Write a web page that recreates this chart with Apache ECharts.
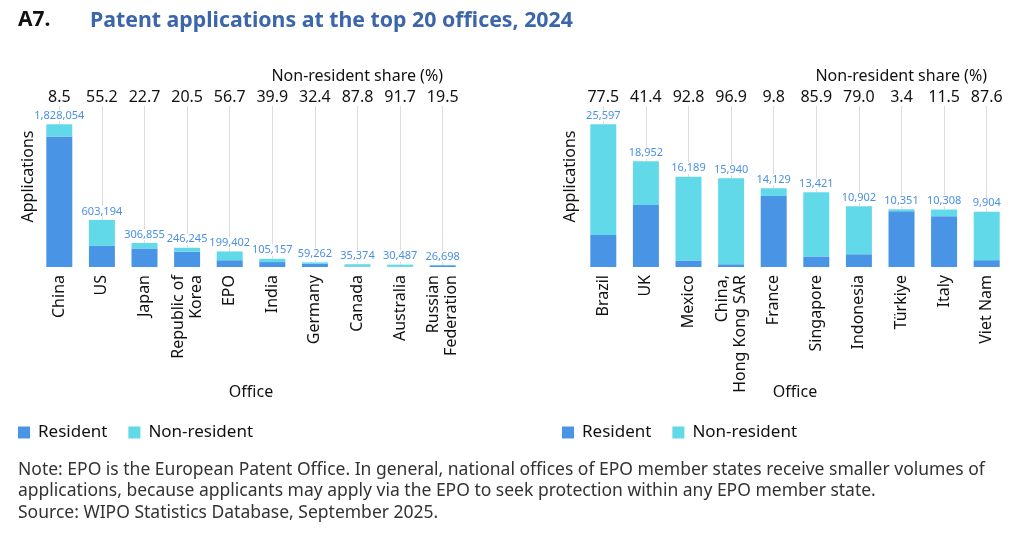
<!DOCTYPE html>
<html>
<head>
<meta charset="utf-8">
<script src="https://cdn.jsdelivr.net/npm/echarts@6/dist/echarts.min.js"></script>
<style>
html,body{margin:0;padding:0;background:#fff;}
#c{width:1024px;height:534px;}
</style>
</head>
<body>
<div id="c"></div>
<script>
// Left panel (top 10 offices)
const leftOffices = ['China','US','Japan','Republic of\nKorea','EPO','India','Germany','Canada','Australia','Russian\nFederation'];
const leftTotals = [1828054,603194,306855,246245,199402,105157,59262,35374,30487,26698];
const leftShare = ['8.5','55.2','22.7','20.5','56.7','39.9','32.4','87.8','91.7','19.5'];
const leftResident = [1672669,270231,237199,195765,86341,63199,40061,4316,2530,21492];
const leftNonResident = [155385,332963,69656,50480,113061,41958,19201,31058,27957,5206];

// Right panel (offices 11-20)
const rightOffices = ['Brazil','UK','Mexico','China,\nHong Kong SAR','France','Singapore','Indonesia','Türkiye','Italy','Viet Nam'];
const rightTotals = [25597,18952,16189,15940,14129,13421,10902,10351,10308,9904];
const rightShare = ['77.5','41.4','92.8','96.9','9.8','85.9','79.0','3.4','11.5','87.6'];
const rightResident = [5759,11106,1166,494,12744,1892,2289,9999,9123,1228];
const rightNonResident = [19838,7846,15023,15446,1385,11529,8613,352,1185,8676];

const leftMax = 2062000;
const rightMax = 28880;

const RES = '#4A94E6', NON = '#62D9E8', LBL = '#4A90E2';
const FONT = 'Noto Sans';

function fmt(v){ return v.toLocaleString('en-US'); }

function bottomAxis(grid, data){
  return {
    type:'category', gridIndex:grid, data:data, position:'bottom',
    axisLine:{show:false}, axisTick:{show:false},
    axisLabel:{rotate:90, fontSize:16, color:'#111', fontFamily:FONT, margin:8, lineHeight:18},
    name:'Office', nameLocation:'middle', nameGap:117, nameMoveOverlap:false,
    nameTextStyle:{fontSize:16, color:'#111', fontFamily:FONT}
  };
}
function topAxis(grid, data){
  return {
    type:'category', gridIndex:grid, data:data, position:'top',
    axisLine:{show:false}, axisTick:{show:false},
    axisLabel:{fontSize:16, color:'#111', fontFamily:FONT, margin:1}
  };
}
function yAx(grid, max, gap){
  return {
    type:'value', gridIndex:grid, min:0, max:max,
    axisLine:{show:false}, axisTick:{show:false}, axisLabel:{show:false}, splitLine:{show:false},
    name:'Applications', nameLocation:'middle', nameGap:gap, nameMoveOverlap:false,
    nameTextStyle:{fontSize:16, color:'#111', fontFamily:FONT, padding:[0,0,0,20]}
  };
}
function seriesFor(xi, yi, stack, res, non, totals, cats, max){
  return [
    {name:'Resident', type:'bar', xAxisIndex:xi, yAxisIndex:yi, stack:stack, data:res,
     barWidth:26, itemStyle:{color:RES}, z:3},
    {name:'Non-resident', type:'bar', xAxisIndex:xi, yAxisIndex:yi, stack:stack, data:non,
     barWidth:26, itemStyle:{color:NON}, z:3,
     label:{show:true, position:'top', distance:3, color:LBL, fontSize:11, fontFamily:FONT,
       backgroundColor:'#fff', padding:[0,1,0,1],
       formatter:p=>fmt(totals[p.dataIndex])},
     markLine:{silent:true, symbol:'none', z:1, label:{show:false},
       lineStyle:{color:'#dcdcdc', width:1, type:'solid'},
       data: cats.map((c,i)=>[{coord:[c, totals[i]]},{coord:[c, max]}])}
    }
  ];
}

const legendText = {fontSize:17, color:'#111', fontFamily:FONT, padding:[0,0,0,3]};

const chart = echarts.init(document.getElementById('c'));
chart.setOption({
  animation:false,
  textStyle:{fontFamily:FONT},
  title:[
    {text:'A7.', left:13, top:5, textStyle:{fontSize:21, fontWeight:'bold', color:'#111', fontFamily:FONT}},
    {text:'Patent applications at the top 20 offices, 2024', left:85, top:5,
     textStyle:{fontSize:21.3, fontWeight:'bold', color:'#3B66AA', fontFamily:FONT}},
    {text:'Non-resident share (%)', right:576, top:63, textStyle:{fontSize:16, fontWeight:'normal', color:'#111', fontFamily:FONT}},
    {text:'Non-resident share (%)', right:32, top:63, textStyle:{fontSize:16, fontWeight:'normal', color:'#111', fontFamily:FONT}},
    {text:'Note: EPO is the European Patent Office. In general, national offices of EPO member states receive smaller volumes of\napplications, because applicants may apply via the EPO to seek protection within any EPO member state.\nSource: WIPO Statistics Database, September 2025.',
     left:13, top:454, textStyle:{fontSize:17.5, fontWeight:'normal', color:'#333', lineHeight:21.5, fontFamily:FONT}}
  ],
  legend:[
    {data:['Resident','Non-resident'], left:13, top:419, itemWidth:12, itemHeight:12, itemGap:21, icon:'rect',
     textStyle:legendText},
    {data:['Resident','Non-resident'], left:557, top:419, itemWidth:12, itemHeight:12, itemGap:21, icon:'rect',
     textStyle:legendText}
  ],
  grid:[
    {left:38, width:426, top:106, bottom:267},
    {left:582, width:426, top:106, bottom:267}
  ],
  xAxis:[bottomAxis(0,leftOffices), topAxis(0,leftShare), bottomAxis(1,rightOffices), topAxis(1,rightShare)],
  yAxis:[yAx(0,leftMax,2), yAx(1,rightMax,4)],
  series:[].concat(
    seriesFor(0,0,'L',leftResident,leftNonResident,leftTotals,leftOffices,leftMax),
    seriesFor(2,1,'R',rightResident,rightNonResident,rightTotals,rightOffices,rightMax)
  )
});
</script>
</body>
</html>
